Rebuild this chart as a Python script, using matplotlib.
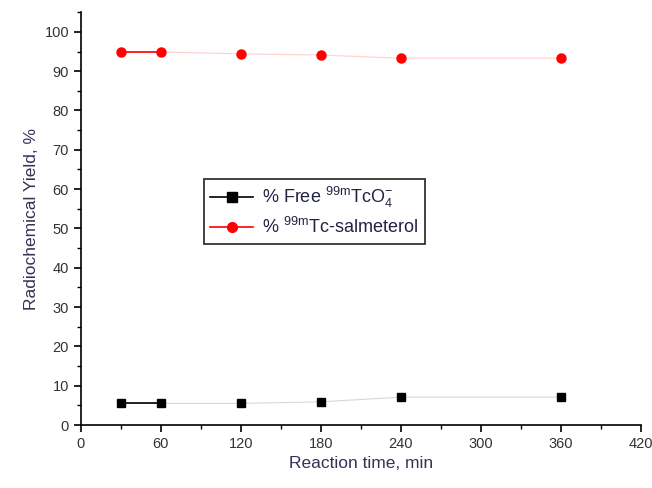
import numpy as np
import matplotlib
matplotlib.use("Agg")
import matplotlib.pyplot as plt
from matplotlib.ticker import MultipleLocator

plt.rcParams['font.family'] = ['Liberation Sans', 'DejaVu Sans']
plt.rcParams['mathtext.fontset'] = 'custom'
plt.rcParams['mathtext.rm'] = 'Liberation Sans'

# reaction time (min) and yields (%)
time_min = [30, 60, 120, 180, 240, 360]
free_tco4 = [5.5, 5.5, 5.5, 5.9, 7.1, 7.1]
tc_salmeterol = [94.9, 94.9, 94.4, 94.1, 93.3, 93.3]

fig = plt.figure(figsize=(6.52, 4.88), dpi=100)
ax = fig.add_axes([0.124, 0.129, 0.859, 0.846])

# faint connecting lines, then the first segment drawn solid
ax.plot(time_min, free_tco4, color="#d8d8d8", linewidth=0.8)
ax.plot(time_min, tc_salmeterol, color="#ffd0d0", linewidth=0.8)
ax.plot(time_min[:2], free_tco4[:2], color="black", linewidth=1.2)
ax.plot(time_min[:2], tc_salmeterol[:2], color="red", linewidth=1.2)
ax.plot(time_min, free_tco4, "s", color="black", markersize=6)
ax.plot(time_min, tc_salmeterol, "o", color="red", markersize=6.5)

# legend handles
ax.plot([], [], "-s", color="black", markersize=7, linewidth=1.2,
        label=r"% Free $^{\mathrm{99m}}$TcO$_4^{-}$")
ax.plot([], [], "-o", color="red", markersize=7, linewidth=1.2,
        label=r"% $^{\mathrm{99m}}$Tc-salmeterol")
leg = ax.legend(loc="center left", bbox_to_anchor=(0.203, 0.518), frameon=True,
                fancybox=False, edgecolor="black", fontsize=13, handlelength=2.4,
                borderpad=0.35, labelspacing=0.4, handletextpad=0.5)
leg.get_frame().set_linewidth(1.3)
for t in leg.get_texts():
    t.set_color("#222244")

ax.set_xlim(0, 420)
ax.set_ylim(0, 105)
ax.xaxis.set_major_locator(MultipleLocator(60))
ax.xaxis.set_minor_locator(MultipleLocator(30))
ax.yaxis.set_major_locator(MultipleLocator(10))
ax.yaxis.set_minor_locator(MultipleLocator(5))
ax.tick_params(which="major", direction="out", length=5, width=1.2, labelsize=10.5)
ax.tick_params(which="minor", direction="out", length=3, width=1.0)
ax.spines["top"].set_visible(False)
ax.spines["right"].set_visible(False)
ax.spines["left"].set_linewidth(1.2)
ax.spines["bottom"].set_linewidth(1.2)

ax.set_xlabel("Reaction time, min", fontsize=12.5, color="#333355")
ax.set_ylabel("Radiochemical Yield, %", fontsize=12.5, color="#333355")
for lbl in ax.get_xticklabels() + ax.get_yticklabels():
    lbl.set_color("#333333")

fig.savefig("out.png", dpi=100)
